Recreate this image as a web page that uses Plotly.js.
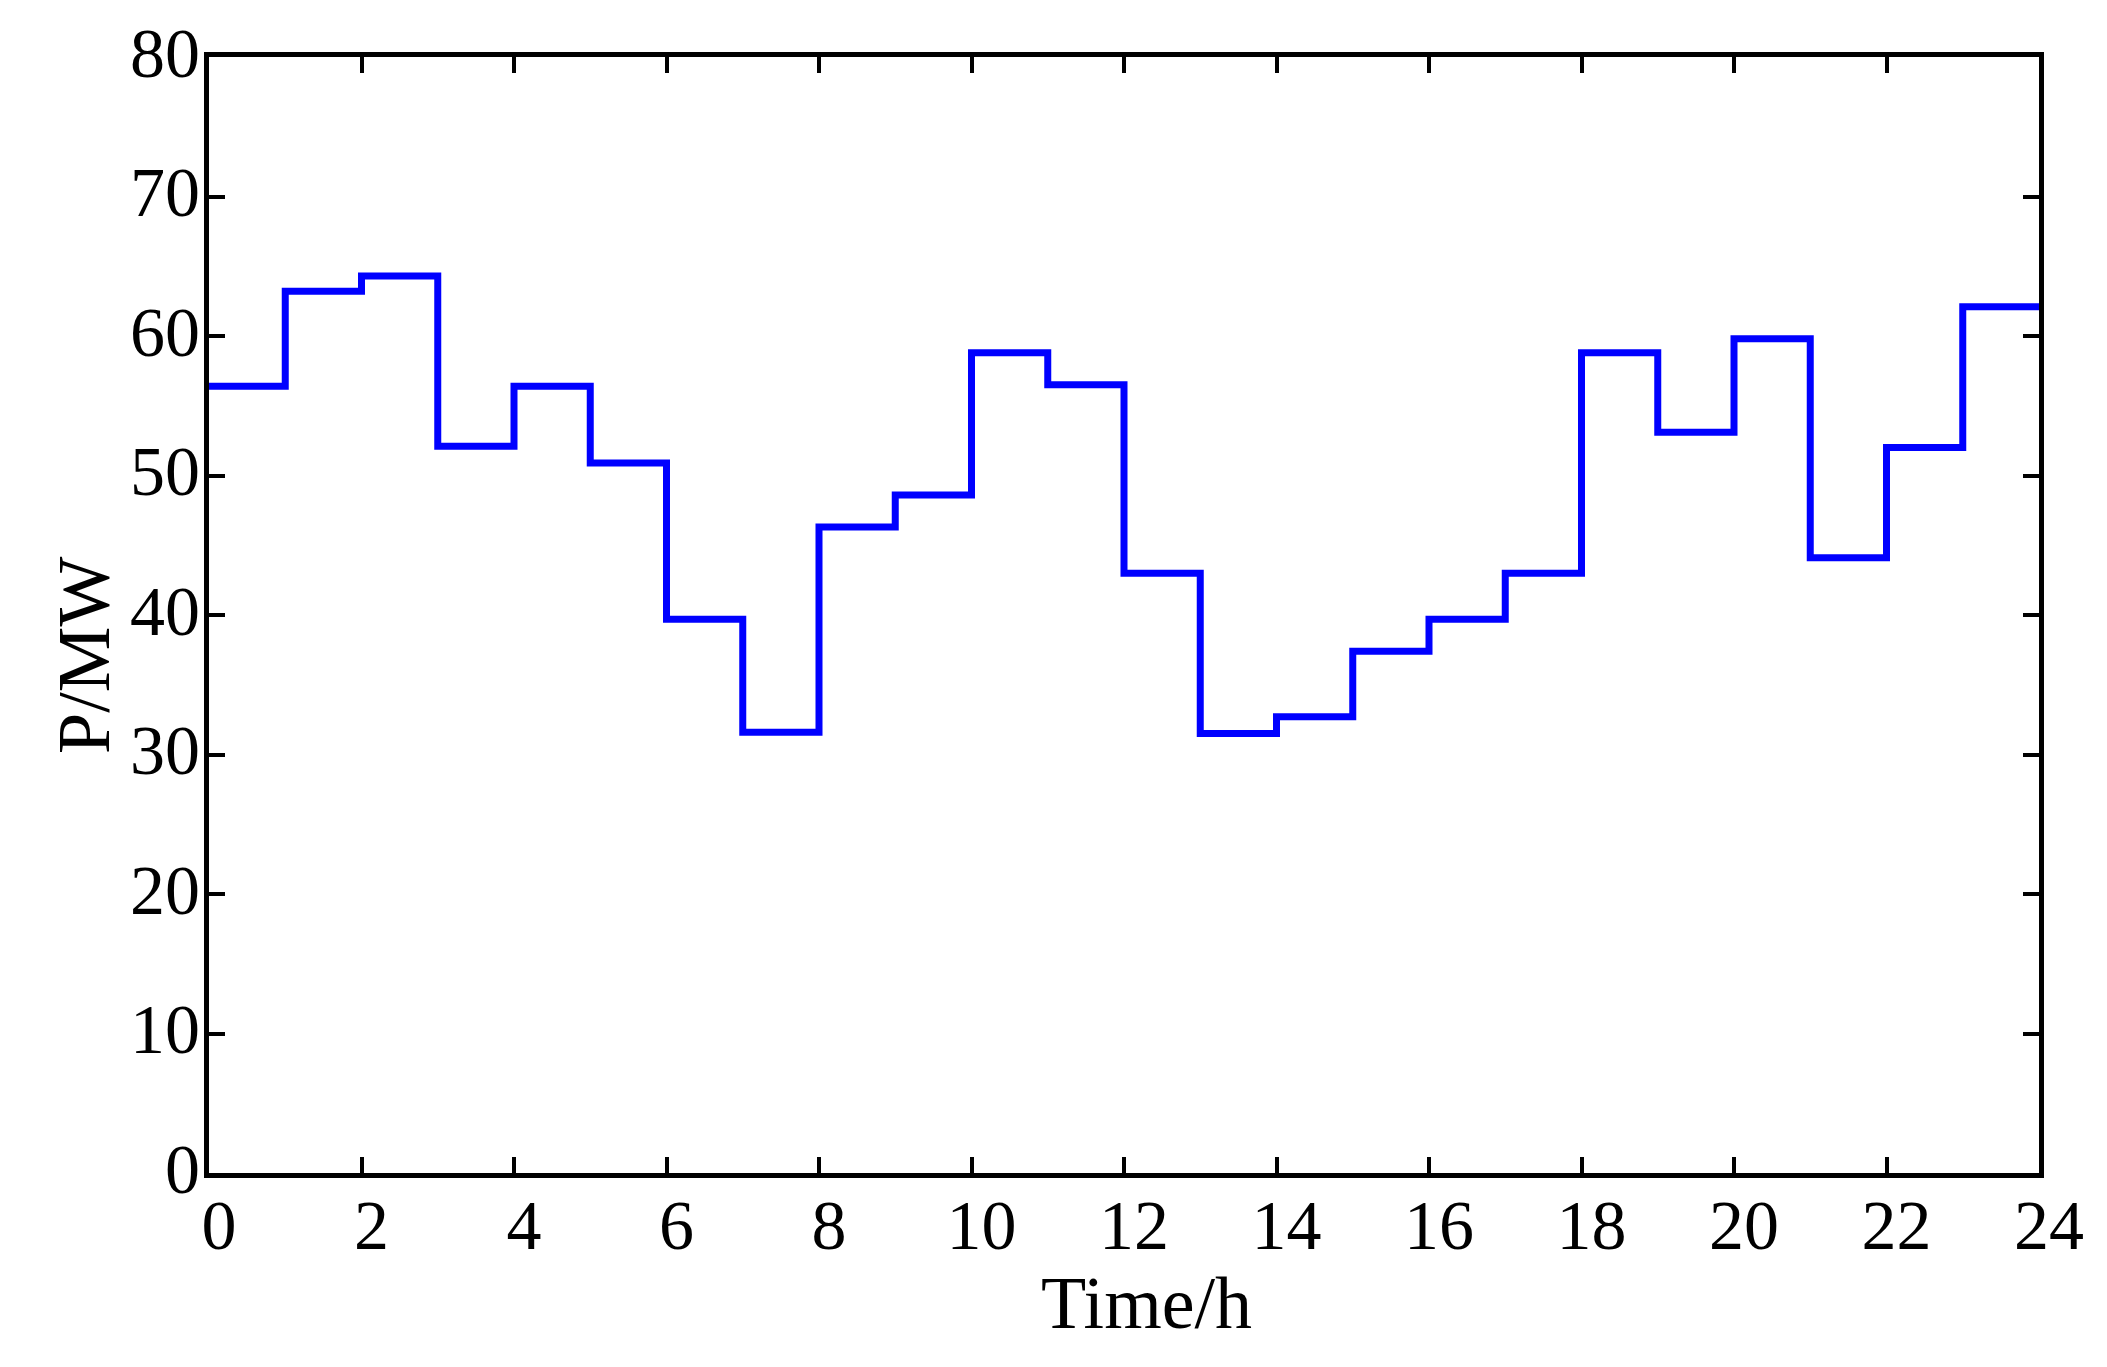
<!DOCTYPE html>
<html>
<head>
<meta charset="utf-8">
<script src="https://cdn.plot.ly/plotly-3.0.1.min.js"></script>
<style>html,body{margin:0;padding:0;background:#fff;}#chart{width:2107px;height:1367px;}</style>
</head>
<body>
<div id="chart"></div>
<script>
const hours = [0,1,2,3,4,5,6,7,8,9,10,11,12,13,14,15,16,17,18,19,20,21,22,23];
const power = [56.4,63.2,64.3,52.1,56.4,50.9,39.7,31.6,46.3,48.6,58.8,56.5,43.0,31.5,32.7,37.4,39.7,43.0,58.8,53.1,59.8,44.1,52.0,62.1];
const xTicks = [0,2,4,6,8,10,12,14,16,18,20,22,24];
const yTicks = [0,10,20,30,40,50,60,70,80];
const xTitle = 'Time/h';
const yTitle = 'P/MW';

// step: each hour's value holds until the next hour; the final value holds to hour 24
const xs = hours.concat([hours[hours.length-1] + 1]);
const ys = power.concat([power[power.length-1]]);

const font = {family: '"Liberation Serif", "Times New Roman", serif', color: '#000'};

const trace = {
  x: xs, y: ys, type: 'scatter', mode: 'lines',
  line: {shape: 'hv', color: '#0000ff', width: 7},
  hoverinfo: 'x+y'
};

const axisCommon = {
  showline: true, linecolor: '#000', linewidth: 5, mirror: 'ticks',
  ticks: 'inside', ticklen: 16, tickwidth: 4, tickcolor: '#000',
  showgrid: false, zeroline: false,
  tickfont: Object.assign({size: 70}, font)
};

const layout = {
  width: 2107, height: 1367,
  margin: {l: 209, r: 68, t: 57, b: 194},
  paper_bgcolor: '#fff', plot_bgcolor: '#fff',
  showlegend: false,
  xaxis: Object.assign({}, axisCommon, {
    range: [0, 24], tickmode: 'array', tickvals: xTicks, ticktext: xTicks.map(String),
    ticklabelstandoff: -13, ticklabelshift: 10
  }),
  yaxis: Object.assign({}, axisCommon, {
    range: [0, 80], tickmode: 'array', tickvals: yTicks, ticktext: yTicks.map(String),
    ticklabelstandoff: -10, ticklabelshift: -5
  }),
  annotations: [
    {text: xTitle, xref: 'paper', yref: 'paper', x: 0.5125, y: -0.1165,
     xanchor: 'center', yanchor: 'middle', showarrow: false, font: Object.assign({size: 74}, font)},
    {text: yTitle, xref: 'paper', yref: 'paper', x: -0.0683, y: 0.4642, textangle: -90,
     xanchor: 'center', yanchor: 'middle', showarrow: false, font: Object.assign({size: 74}, font)}
  ]
};

Plotly.newPlot('chart', [trace], layout, {displayModeBar: false, staticPlot: true});
</script>
</body>
</html>
